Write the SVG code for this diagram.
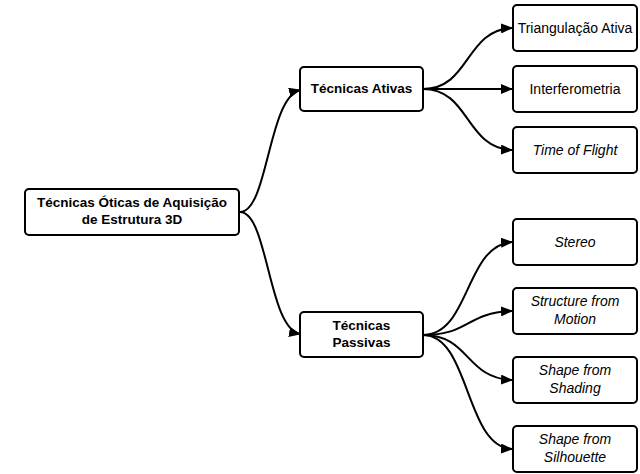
<svg xmlns="http://www.w3.org/2000/svg" width="640" height="474" viewBox="0 0 640 474">
<defs>
<style>
.box{fill:#fff;stroke:#000;stroke-width:2}
.t{font-family:"Liberation Sans",Arial,sans-serif;font-size:14px;fill:#000;text-anchor:middle}
.b{font-weight:bold;font-size:13.5px}
.i{font-style:italic}
.c{fill:none;stroke:#000;stroke-width:2}
</style>
<marker id="ah" markerWidth="12" markerHeight="10" refX="11" refY="5" orient="auto" markerUnits="userSpaceOnUse">
<path d="M0,0 L12,5 L0,10 z" fill="#000"/>
</marker>
</defs>
<rect width="640" height="474" fill="#fff"/>
<g id="connectors">
<path class="c" marker-end="url(#ah)" d="M240,212 C268,212 268,98 300,90"/>
<path class="c" marker-end="url(#ah)" d="M240,212 C268,212 268,328 300,334"/>
<path class="c" marker-end="url(#ah)" d="M423,89 C470,89 465,30 512,28"/>
<path class="c" marker-end="url(#ah)" d="M423,89 L512,89"/>
<path class="c" marker-end="url(#ah)" d="M423,89 C470,89 465,148 512,150"/>
<path class="c" marker-end="url(#ah)" d="M423,335 C470,335 465,245 512,242"/>
<path class="c" marker-end="url(#ah)" d="M423,335 C470,335 465,313 512,311"/>
<path class="c" marker-end="url(#ah)" d="M423,335 C470,335 465,378 512,380"/>
<path class="c" marker-end="url(#ah)" d="M423,335 C470,335 465,447 512,449"/>
</g>
<g id="root">
<rect class="box" x="25" y="189" width="214" height="46" rx="4"/>
<text class="t b" x="132" y="207">Técnicas Óticas de Aquisição</text>
<text class="t b" x="132" y="224">de Estrutura 3D</text>
</g>
<g id="ativas">
<rect class="box" x="300" y="67" width="123" height="44" rx="4"/>
<text class="t b" x="361.5" y="93">Técnicas Ativas</text>
</g>
<g id="passivas">
<rect class="box" x="300" y="312" width="123" height="45" rx="4"/>
<text class="t b" x="361.5" y="330">Técnicas</text>
<text class="t b" x="361.5" y="347">Passivas</text>
</g>
<g id="triangulacao">
<rect class="box" x="513" y="5" width="124" height="46" rx="4"/>
<text class="t" x="575" y="33">Triangulação Ativa</text>
</g>
<g id="interferometria">
<rect class="box" x="513" y="66" width="124" height="46" rx="4"/>
<text class="t" x="575" y="94">Interferometria</text>
</g>
<g id="tof">
<rect class="box" x="513" y="127" width="124" height="46" rx="4"/>
<text class="t i" x="575" y="155">Time of Flight</text>
</g>
<g id="stereo">
<rect class="box" x="513" y="219" width="124" height="46" rx="4"/>
<text class="t i" x="575" y="247">Stereo</text>
</g>
<g id="sfm">
<rect class="box" x="513" y="288" width="124" height="46" rx="4"/>
<text class="t i" x="575" y="306">Structure from</text>
<text class="t i" x="575" y="324">Motion</text>
</g>
<g id="sfs">
<rect class="box" x="513" y="357" width="124" height="46" rx="4"/>
<text class="t i" x="575" y="375">Shape from</text>
<text class="t i" x="575" y="393">Shading</text>
</g>
<g id="sfsil">
<rect class="box" x="513" y="426" width="124" height="46" rx="4"/>
<text class="t i" x="575" y="444">Shape from</text>
<text class="t i" x="575" y="462">Silhouette</text>
</g>
</svg>
